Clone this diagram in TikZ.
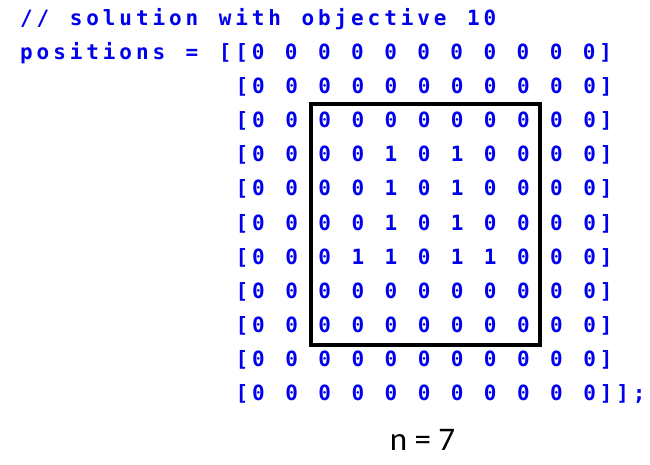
\documentclass[tikz,border=0pt]{standalone}
\usepackage{fontspec}
\usepackage{tikz}
\newfontfamily\codefont[LetterSpace=18.6,BoldFont={DejaVu Sans Mono Bold}]{DejaVu Sans Mono}
\newfontfamily\labelfont{Carlito}
\definecolor{codeblue}{rgb}{0.,0.,0.93}
\newcommand{\codesize}{\fontsize{21}{21}\selectfont\setlength{\spaceskip}{20.46pt}}
\tikzset{
  codeline/.style={anchor=base west,inner sep=0pt,color=codeblue,font=\codefont\bfseries\codesize}
}

\begin{document}
\begin{tikzpicture}[line join=miter,x=1pt,y=-1pt]
    \useasboundingbox (0,0) rectangle (650,465);
    \node [codeline] (comment) at (20.,26.) {// solution with objective 10};
    \node [codeline] (row1) at (20.,59.5) {positions = [[0 0 0 0 0 0 0 0 0 0 0]};
    \node [codeline] (row2) at (235.5,94.) {[0 0 0 0 0 0 0 0 0 0 0]};
    \node [codeline] (row3) at (235.5,128.) {[0 0 0 0 0 0 0 0 0 0 0]};
    \node [codeline] (row4) at (235.5,162.) {[0 0 0 0 1 0 1 0 0 0 0]};
    \node [codeline] (row5) at (235.5,196.) {[0 0 0 0 1 0 1 0 0 0 0]};
    \node [codeline] (row6) at (235.5,230.) {[0 0 0 0 1 0 1 0 0 0 0]};
    \node [codeline] (row7) at (235.5,264.) {[0 0 0 1 1 0 1 1 0 0 0]};
    \node [codeline] (row8) at (235.5,298.5) {[0 0 0 0 0 0 0 0 0 0 0]};
    \node [codeline] (row9) at (235.5,332.5) {[0 0 0 0 0 0 0 0 0 0 0]};
    \node [codeline] (row10) at (235.5,366.5) {[0 0 0 0 0 0 0 0 0 0 0]};
    \node [codeline] (row11) at (235.5,400.5) {[0 0 0 0 0 0 0 0 0 0 0]];};
    % inner n x n block
    \draw [line width=4.pt] (310.7,104.3) rectangle (540.,344.7);
    \node [anchor=base,inner sep=0pt,font=\labelfont\fontsize{33}{33}\selectfont] (nlabel) at (422.5,450.7) {n = 7};
\end{tikzpicture}
\end{document}
